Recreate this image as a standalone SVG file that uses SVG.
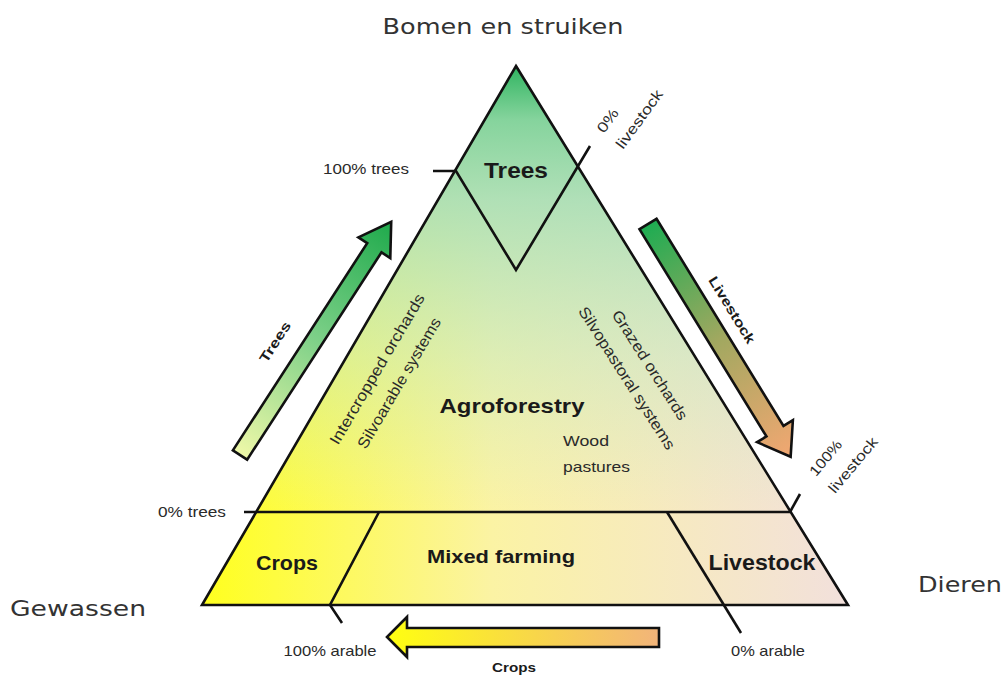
<svg xmlns="http://www.w3.org/2000/svg" width="1004" height="675" viewBox="0 0 1004 675">
<style>
.ln{fill:none;stroke:#111;stroke-width:2.6;stroke-linejoin:miter;stroke-linecap:butt}
.t{font-family:"Liberation Sans",Arial,sans-serif;fill:#2a2a2a}
.b{font-family:"Liberation Sans",Arial,sans-serif;font-weight:bold;fill:#1a1a1a}
.g{font-family:"DejaVu Sans","Liberation Sans",sans-serif;fill:#333}
.arr{stroke:#111;stroke-width:2.6;stroke-linejoin:miter}
</style>
<defs>
<linearGradient id="base" gradientUnits="userSpaceOnUse" x1="202" y1="0" x2="848" y2="0">
<stop offset="0" stop-color="#ffff1e"/>
<stop offset="0.45" stop-color="#fbf3a4"/>
<stop offset="1" stop-color="#f2e0dc"/>
</linearGradient>
<linearGradient id="green" gradientUnits="userSpaceOnUse" x1="0" y1="66" x2="0" y2="512">
<stop offset="0" stop-color="#2fb460" stop-opacity="1"/>
<stop offset="0.12" stop-color="#7fd29c" stop-opacity="0.95"/>
<stop offset="0.3" stop-color="#a3ddb9" stop-opacity="0.85"/>
<stop offset="0.65" stop-color="#b9e6c8" stop-opacity="0.45"/>
<stop offset="1" stop-color="#c4e9cc" stop-opacity="0"/>
</linearGradient>
<linearGradient id="gTrees" gradientUnits="userSpaceOnUse" x1="0" y1="0" x2="278" y2="0">
<stop offset="0" stop-color="#eef8a8"/>
<stop offset="0.5" stop-color="#7dd088"/>
<stop offset="1" stop-color="#1faa4c"/>
</linearGradient>
<linearGradient id="gLive" gradientUnits="userSpaceOnUse" x1="0" y1="0" x2="273" y2="0">
<stop offset="0" stop-color="#1eac52"/>
<stop offset="0.5" stop-color="#a2a860"/>
<stop offset="1" stop-color="#f2a772"/>
</linearGradient>
<linearGradient id="gCrops" gradientUnits="userSpaceOnUse" x1="387" y1="0" x2="659" y2="0">
<stop offset="0" stop-color="#ffff10"/>
<stop offset="1" stop-color="#f2b47a"/>
</linearGradient>
</defs>
<rect width="1004" height="675" fill="#ffffff"/>

<g id="triangle-fill">
<polygon points="516,66 848,605 202,605" fill="url(#base)"/>
<polygon points="516,66 790,512 256,512" fill="url(#green)"/>
</g>

<g id="connectors">
<polygon class="ln" points="516,66 848,605 202,605"/>
<line class="ln" x1="244" y1="512" x2="790" y2="512"/>
<polyline class="ln" points="433,171 456,171 516,270 590,146"/>
<polyline class="ln" points="379,512 330,605 342,623"/>
<line class="ln" x1="667" y1="512" x2="741" y2="633"/>
<line class="ln" x1="790" y1="512" x2="800" y2="494"/>
<polygon class="arr" fill="url(#gTrees)" transform="translate(240,455) rotate(-57.05)" points="0,-8.5 247,-8.5 247,-19 278,0 247,19 247,8.5 0,8.5"/>
<polygon class="arr" fill="url(#gLive)" transform="translate(648,224) rotate(58.5)" points="0,-10 243,-10 243,-21 273,0 243,21 243,10 0,10"/>
<polygon class="arr" fill="url(#gCrops)" points="659,628 407,628 407,617 387,637 407,657 407,647 659,647"/>
</g>

<g id="node-trees"><text class="b" x="516" y="178" font-size="22" text-anchor="middle" textLength="64" lengthAdjust="spacingAndGlyphs">Trees</text></g>
<g id="node-agroforestry">
<text class="b" x="512" y="413" font-size="21" text-anchor="middle" textLength="145" lengthAdjust="spacingAndGlyphs">Agroforestry</text>
<text class="t" x="563" y="446" font-size="15" textLength="46" lengthAdjust="spacingAndGlyphs">Wood</text>
<text class="t" x="563" y="472" font-size="15" textLength="67" lengthAdjust="spacingAndGlyphs">pastures</text>
<text class="t" font-size="15.5" text-anchor="middle" dy="0.35em" textLength="172" lengthAdjust="spacingAndGlyphs" transform="translate(377,369) rotate(-59.5)">Intercropped orchards</text>
<text class="t" font-size="15.5" text-anchor="middle" dy="0.35em" textLength="149" lengthAdjust="spacingAndGlyphs" transform="translate(399,383) rotate(-59.5)">Silvoarable systems</text>
<text class="t" font-size="15.5" text-anchor="middle" dy="0.35em" textLength="127" lengthAdjust="spacingAndGlyphs" transform="translate(650,365) rotate(57.5)">Grazed orchards</text>
<text class="t" font-size="15.5" text-anchor="middle" dy="0.35em" textLength="166" lengthAdjust="spacingAndGlyphs" transform="translate(627,378) rotate(57.5)">Silvopastoral systems</text>
</g>
<g id="node-crops"><text class="b" x="287" y="570" font-size="21" text-anchor="middle" textLength="62" lengthAdjust="spacingAndGlyphs">Crops</text></g>
<g id="node-mixed"><text class="b" x="501" y="563" font-size="19" text-anchor="middle" textLength="148" lengthAdjust="spacingAndGlyphs">Mixed farming</text></g>
<g id="node-livestock"><text class="b" x="762" y="570" font-size="22" text-anchor="middle" textLength="107" lengthAdjust="spacingAndGlyphs">Livestock</text></g>

<g id="labels">
<text class="t" x="366" y="174" font-size="14.5" text-anchor="middle" textLength="86" lengthAdjust="spacingAndGlyphs">100% trees</text>
<text class="t" x="192" y="517" font-size="14.5" text-anchor="middle" textLength="68" lengthAdjust="spacingAndGlyphs">0% trees</text>
<text class="t" x="330" y="656" font-size="14.5" text-anchor="middle" textLength="93" lengthAdjust="spacingAndGlyphs">100% arable</text>
<text class="t" x="768" y="656" font-size="14.5" text-anchor="middle" textLength="74" lengthAdjust="spacingAndGlyphs">0% arable</text>
<text class="b" x="514" y="672" font-size="13" text-anchor="middle" textLength="44" lengthAdjust="spacingAndGlyphs">Crops</text>
<text class="b" font-size="13.5" text-anchor="middle" dy="0.35em" textLength="46" lengthAdjust="spacingAndGlyphs" transform="translate(275,342) rotate(-57)">Trees</text>
<text class="b" font-size="13.5" text-anchor="middle" dy="0.35em" textLength="76" lengthAdjust="spacingAndGlyphs" transform="translate(732,310) rotate(58.5)">Livestock</text>
<text class="t" font-size="14.5" dy="0.35em" textLength="26" lengthAdjust="spacingAndGlyphs" transform="translate(600,131) rotate(-54)">0%</text>
<text class="t" font-size="14.5" dy="0.35em" textLength="69" lengthAdjust="spacingAndGlyphs" transform="translate(619,147) rotate(-54)">livestock</text>
<text class="t" font-size="14.5" dy="0.35em" textLength="42" lengthAdjust="spacingAndGlyphs" transform="translate(812,474) rotate(-50)">100%</text>
<text class="t" font-size="14.5" dy="0.35em" textLength="68" lengthAdjust="spacingAndGlyphs" transform="translate(831,491) rotate(-50)">livestock</text>
</g>

<g id="corners">
<text class="g" x="503" y="34" font-size="22" text-anchor="middle" textLength="241" lengthAdjust="spacingAndGlyphs">Bomen en struiken</text>
<text class="g" x="10" y="616" font-size="22" textLength="136" lengthAdjust="spacingAndGlyphs">Gewassen</text>
<text class="g" x="918" y="592" font-size="22" textLength="84" lengthAdjust="spacingAndGlyphs">Dieren</text>
</g>
</svg>
